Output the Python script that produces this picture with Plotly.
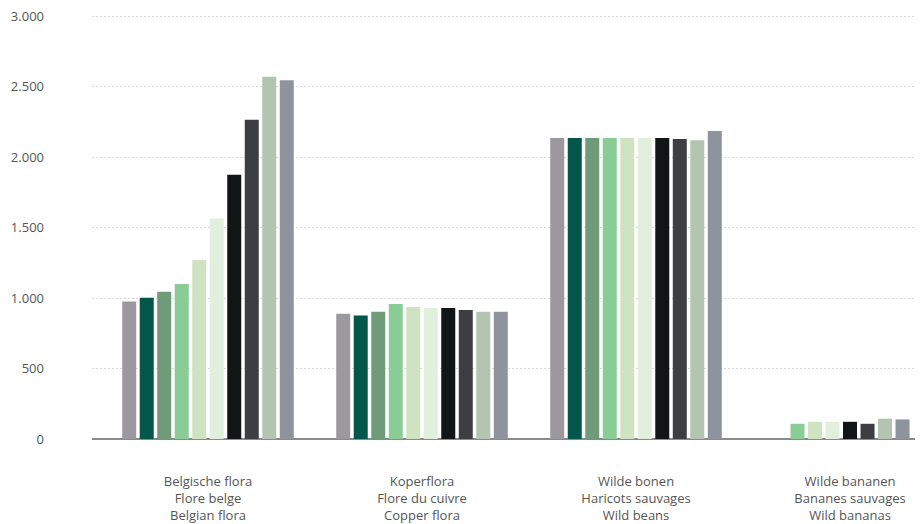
import plotly.graph_objects as go

# Categories (three languages per label)
categories = ["Belgische flora", "Koperflora", "Wilde bonen", "Wilde bananen"]
cat_labels = [
    "Belgische flora<br>Flore belge<br>Belgian flora",
    "Koperflora<br>Flore du cuivre<br>Copper flora",
    "Wilde bonen<br>Haricots sauvages<br>Wild beans",
    "Wilde bananen<br>Bananes sauvages<br>Wild bananas",
]

# One value per series for each category (None = no bar)
belgische_flora = [975, 1002, 1045, 1100, 1270, 1565, 1875, 2265, 2570, 2545]
koperflora = [889, 877, 903, 957, 936, 929, 929, 915, 903, 903]
wilde_bonen = [2135, 2135, 2135, 2135, 2135, 2135, 2135, 2128, 2120, 2185]
wilde_bananen = [None, None, None, 108, 122, 122, 122, 108, 144, 139]

series_names = ["Reeks %d" % (i + 1) for i in range(10)]
colors = ["#9b999e", "#03574a", "#6f9b78", "#8acc96", "#cfe3c2",
          "#e2efdc", "#111516", "#3d3e42", "#b3c5b0", "#8f939e"]

groups = [belgische_flora, koperflora, wilde_bonen, wilde_bananen]

# bars are packed per category, missing values take no slot
pitch = 0.0818
bar_w = 0.0654

fig = go.Figure()
for i, name in enumerate(series_names):
    ys, offs = [], []
    for g in groups:
        visible = [k for k, v in enumerate(g) if v is not None]
        m = len(visible)
        ys.append(g[i])
        if g[i] is None:
            offs.append(0)
        else:
            rank = visible.index(i)
            offs.append((rank - m / 2) * pitch + (pitch - bar_w) / 2)
    fig.add_trace(go.Bar(
        x=categories, y=ys, name=name,
        offset=offs, width=bar_w,
        marker=dict(color=colors[i], line=dict(width=0)),
    ))

# page body has an 8px margin, so the figure is 8px smaller on each side
fig.update_layout(
    width=915, height=516,
    barmode="overlay",
    showlegend=False,
    separators=",.",
    plot_bgcolor="white", paper_bgcolor="white",
    margin=dict(l=84, r=0, t=6, b=85),
    font=dict(family="Open Sans", size=13, color="#555555"),
)
fig.update_xaxes(
    range=[-0.542, 3.341],
    tickvals=categories, ticktext=cat_labels,
    showgrid=False, showline=False, ticks="",
    automargin=False,
    ticklabelstandoff=33,
    tickfont=dict(family="Open Sans", size=13, color="#555555"),
)
fig.update_yaxes(
    range=[0, 3015],
    tickvals=[0, 500, 1000, 1500, 2000, 2500, 3000],
    tickformat=",d",
    showgrid=True, gridcolor="#d9d9d9", griddash="2px,2px", gridwidth=1,
    zeroline=True, zerolinecolor="#8a8a8a", zerolinewidth=1.5,
    showline=False, ticks="",
    automargin=False,
    ticklabeloverflow="allow",
    ticklabelstandoff=47,
    tickfont=dict(family="Open Sans", size=13, color="#555555"),
)

fig.write_html("out.html")
